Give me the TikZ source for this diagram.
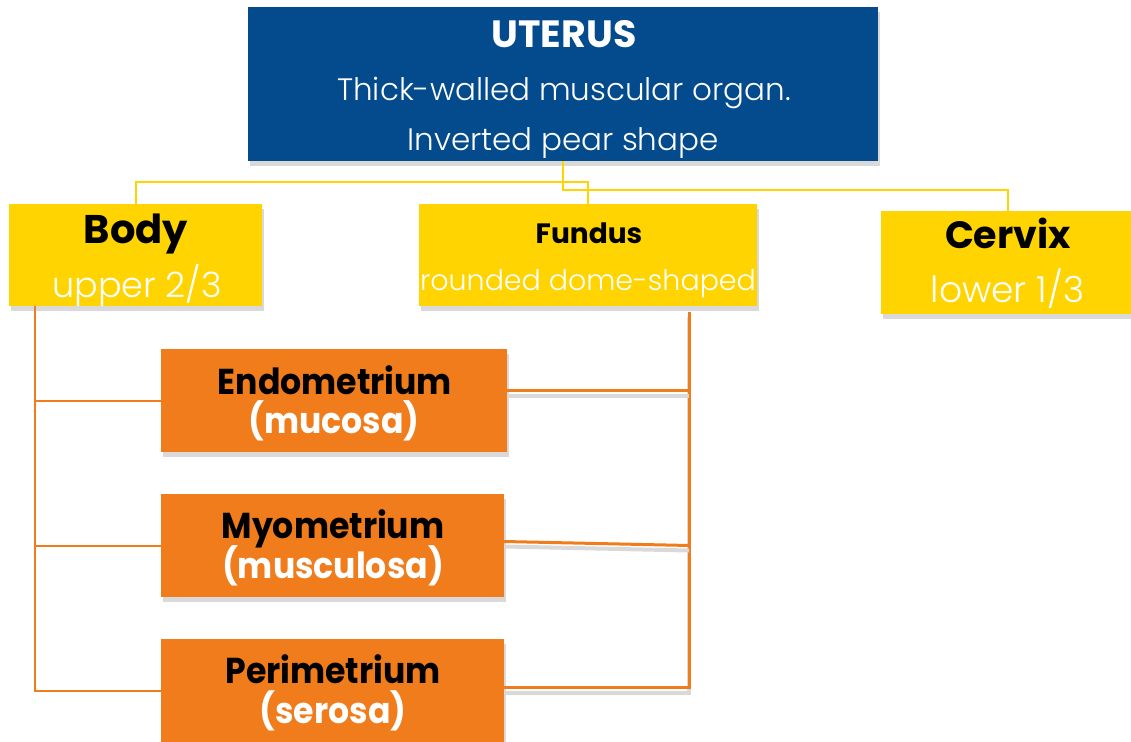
\documentclass[tikz,border=0pt]{standalone}
\usepackage{fontspec}
\setmainfont{Poppins}
\newfontfamily\lightfont{Poppins Light}
\newfontfamily\condbold{Poppins Bold}[FakeStretch=0.92]
\usetikzlibrary{shadows}

\definecolor{uterusblue}{HTML}{034B8C}
\definecolor{partyellow}{HTML}{FFD400}
\definecolor{layerorange}{HTML}{F07C1C}

\tikzset{
  box/.style={rectangle, inner sep=0pt,
    drop shadow={shadow xshift=2pt, shadow yshift=-5pt, opacity=0.3}},
  bluebox/.style={box, fill=uterusblue},
  yellowbox/.style={box, fill=partyellow},
  orangebox/.style={box, fill=layerorange},
  boldtxt/.style={anchor=base, inner sep=0pt, font=\bfseries\fontsize{#1}{#1}\selectfont},
  layertxt/.style={anchor=base, inner sep=0pt, font=\condbold\fontsize{36}{36}\selectfont},
  lighttxt/.style={anchor=base, inner sep=0pt, text=white, font=\lightfont\fontsize{#1}{#1}\selectfont},
  yellowline/.style={draw=partyellow, line width=2pt},
  orangeline/.style={draw=layerorange, line width=2pt},
  orangethick/.style={draw=layerorange, line width=3pt,
    preaction={draw=black!15, line width=4pt, transform canvas={yshift=-5pt}}}
}

\begin{document}
\begin{tikzpicture}[x=1pt, y=-1pt]
	\useasboundingbox (0,0) rectangle (1131,741);
	
	%--- Boxes ---
	\node[bluebox, minimum width=630pt, minimum height=154pt] (uterus) at (563,84) {};
	\node[yellowbox, minimum width=253pt, minimum height=102pt] (body) at (135.5,255) {};
	\node[yellowbox, minimum width=338pt, minimum height=102pt] (fundus) at (588,255) {};
	\node[yellowbox, minimum width=253pt, minimum height=103pt] (cervix) at (1007.5,262.5) {};
	\node[orangebox, minimum width=346pt, minimum height=103pt] (endo) at (334,400.5) {};
	\node[orangebox, minimum width=343pt, minimum height=103pt] (myo) at (332.5,545.5) {};
	\node[orangebox, minimum width=343pt, minimum height=103pt] (peri) at (332.5,690.5) {};
	
	%--- Texts ---
	\node[boldtxt=38, white] (uterusHead) at (564,48) {UTERUS};
	\node[lighttxt=31] (uterusLineA) at (564,101) {Thick-walled muscular organ.};
	\node[lighttxt=31] (uterusLineB) at (563,150) {Inverted pear shape};
	
	\node[boldtxt=40] (bodyHead) at (136,243) {Body};
	\node[lighttxt=35] (bodyLine) at (137,297) {upper 2/3};
	\node[boldtxt=28] (fundusHead) at (589,243) {Fundus};
	\node[lighttxt=28.5] (fundusLine) at (588,290) {rounded dome-shaped};
	\node[boldtxt=38] (cervixHead) at (1008,248) {Cervix};
	\node[lighttxt=36] (cervixLine) at (1007.5,302) {lower 1/3};
	
	\node[layertxt] (endoHead) at (335,394) {Endometrium};
	\node[layertxt, white] (endoLine) at (334,433) {(mucosa)};
	\node[layertxt] (myoHead) at (333,538) {Myometrium};
	\node[layertxt, white] (myoLine) at (333,578) {(musculosa)};
	\node[layertxt] (periHead) at (333,683) {Perimetrium};
	\node[layertxt, white] (periLine) at (333,723) {(serosa)};
	
	%--- Yellow connectors ---
	\draw[yellowline] (uterus.south) -- ++(0,29) -| (cervix.north);
	\draw[yellowline] (body.north) -- ++(0,-22) -| (fundus.north);
	
	%--- Orange connectors, body side ---
	\draw[orangeline] ([xshift=26pt]body.south west) |- (endo.west);
	\draw[orangeline] ([xshift=26pt]body.south west) |- (myo.west);
	\draw[orangeline] ([xshift=26pt]body.south west) |- (peri.west);
	
	%--- Orange connectors, fundus side ---
	\coordinate (fundusDrop) at ([xshift=-68pt, yshift=-6pt]fundus.south east);
	\coordinate (endoR) at ([yshift=10pt]endo.east);
	\coordinate (myoR) at ([yshift=4pt]myo.east);
	\coordinate (periR) at ([yshift=3pt]peri.east);
	\draw[orangethick] (fundusDrop) |- (periR);
	\draw[orangethick] (endoR) -- (endoR -| fundusDrop);
	\draw[orangethick] (myoR) -- (fundusDrop |- myo.east);
	
\end{tikzpicture}
\end{document}
